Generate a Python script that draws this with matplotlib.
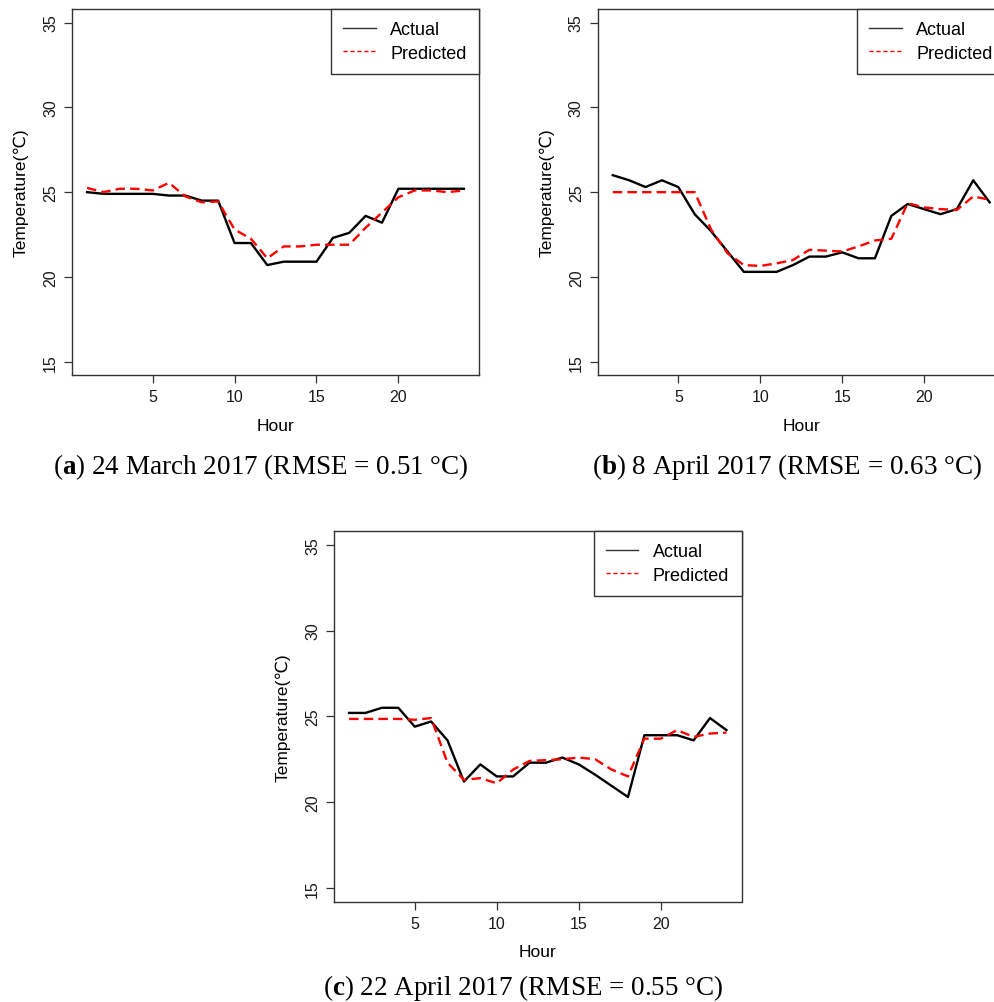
import numpy as np
import matplotlib.pyplot as plt
from matplotlib.lines import Line2D

plt.rcParams['font.family'] = ['Liberation Sans', 'DejaVu Sans']
plt.rcParams['mathtext.fontset'] = 'custom'
plt.rcParams['mathtext.rm'] = 'Liberation Serif'
plt.rcParams['mathtext.bf'] = 'Liberation Serif:bold'

hours = np.arange(1, 25)

# hourly temperature, actual vs predicted (deg C)
actual_a = [25.0, 24.9, 24.9, 24.9, 24.9, 24.8, 24.8, 24.5, 24.5, 22.0, 22.0, 20.7,
            20.9, 20.9, 20.9, 22.3, 22.6, 23.6, 23.2, 25.2, 25.2, 25.2, 25.2, 25.2]
pred_a = [25.25, 25.0, 25.2, 25.2, 25.1, 25.55, 24.75, 24.4, 24.45, 22.8, 22.25, 21.1,
          21.8, 21.8, 21.9, 21.9, 21.9, 22.9, 23.8, 24.7, 25.1, 25.1, 25.0, 25.1]

actual_b = [26.0, 25.7, 25.3, 25.7, 25.3, 23.7, 22.7, 21.5, 20.3, 20.3, 20.3, 20.7,
            21.2, 21.2, 21.45, 21.1, 21.1, 23.6, 24.3, 24.0, 23.7, 24.0, 25.7, 24.4]
pred_b = [25.0, 25.0, 25.0, 25.0, 25.0, 25.0, 22.8, 21.4, 20.7, 20.65, 20.8, 21.0,
          21.6, 21.55, 21.5, 21.8, 22.15, 22.25, 24.35, 24.1, 24.0, 23.95, 24.75, 24.55]

actual_c = [25.2, 25.2, 25.5, 25.5, 24.4, 24.7, 23.6, 21.2, 22.2, 21.5, 21.5, 22.3,
            22.3, 22.6, 22.2, 21.6, 20.95, 20.3, 23.9, 23.9, 23.9, 23.6, 24.9, 24.2]
pred_c = [24.85, 24.85, 24.85, 24.85, 24.8, 24.9, 22.3, 21.3, 21.4, 21.1, 21.9, 22.4,
          22.45, 22.5, 22.6, 22.5, 21.9, 21.5, 23.7, 23.7, 24.2, 23.8, 24.0, 24.05]

captions = [r'($\mathbf{a}$) 24 March 2017 (RMSE = 0.51 °C)',
            r'($\mathbf{b}$) 8 April 2017 (RMSE = 0.63 °C)',
            r'($\mathbf{c}$) 22 April 2017 (RMSE = 0.55 °C)']

W, H = 994, 1003
fig = plt.figure(figsize=(W / 100, H / 100), dpi=100)

# axes boxes in pixels: left, top, right, bottom
boxes = [(72, 10, 479, 376.3), (597.7, 10, 1004.7, 376.3), (334, 532, 741.5, 902.7)]
cap_pos = [(261, 467), (787, 467), (523, 988)]
series = [(actual_a, pred_a), (actual_b, pred_b), (actual_c, pred_c)]

for (l, t, r, b), (act, pre), cap, (cx, cy) in zip(boxes, series, captions, cap_pos):
    ax = fig.add_axes([l / W, (H - b) / H, (r - l) / W, (b - t) / H])
    ax.plot(hours, act, color='black', lw=1.7)
    ax.plot(hours, pre, color='red', lw=1.7, linestyle=(0, (4, 2.2)))
    ax.set_xlim(0.08, 24.92)
    ax.set_ylim(14.2, 35.8)
    ax.set_xticks([5, 10, 15, 20])
    ax.set_yticks([15, 20, 25, 30, 35])
    for s in ax.spines.values():
        s.set_color('#333333')
        s.set_linewidth(1.0)
    ax.tick_params(axis='both', length=6, width=0.9, color='#333333',
                   labelsize=11.5, labelcolor='#1a1a1a')
    ax.tick_params(axis='x', pad=4)
    ax.tick_params(axis='y', pad=4)
    for lab in ax.get_yticklabels():
        lab.set_rotation(90)
        lab.set_va('center')
    ax.set_xlabel('Hour', fontsize=12.5)
    ax.xaxis.set_label_coords(0.5, -50 / (b - t))
    ax.xaxis.label.set_va('center')
    ax.set_ylabel('Temperature(℃)', fontsize=12.5)
    ax.yaxis.set_label_coords(-51 / (r - l), 0.5)
    ax.yaxis.label.set_va('center')

    handles = [Line2D([], [], color='#333333', lw=1),
               Line2D([], [], color='red', lw=1, linestyle=(0, (3, 2)))]
    leg = ax.legend(handles, ['Actual', 'Predicted'], loc='upper right',
                    bbox_to_anchor=(1, 1), borderaxespad=0, fancybox=False,
                    framealpha=1, edgecolor='#333333', fontsize=13,
                    handlelength=1.8, handletextpad=0.8, borderpad=0.68,
                    labelspacing=0.35)
    leg.get_frame().set_linewidth(1.0)

    fig.text(cx / W, (H - cy) / H, cap, fontsize=19.5, ha='center', va='center',
             fontfamily='Liberation Serif')

fig.savefig('out.png', dpi=100)
